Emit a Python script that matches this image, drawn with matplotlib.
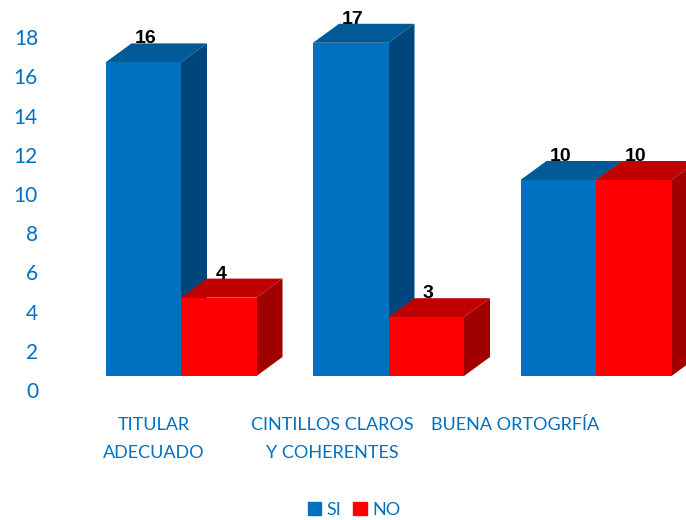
import matplotlib
matplotlib.use("Agg")
import matplotlib.pyplot as plt
from matplotlib.patches import Polygon, Patch

# data
categories = ["TITULAR\nADECUADO", "CINTILLOS CLAROS\nY COHERENTES", "BUENA ORTOGRFÍA"]
si_vals = [16, 17, 10]
no_vals = [4, 3, 10]
yticks = list(range(0, 20, 2))

plt.rcParams['font.family'] = ['Lato', 'DejaVu Sans']

BLUE = '#0070C0'; BLUE_TOP = '#005A96'; BLUE_SIDE = '#00467D'
RED = '#FF0000'; RED_TOP = '#C00000'; RED_SIDE = '#A00000'
TXT = '#0070C0'

# pixel -> data helpers (front face base at px y=376, group 0 centre at px x=181)
PX_X, PX_Y = 207.5, 19.6
def dx_(px): return (px - 181) / PX_X
def dy_(py): return (376 - py) / PX_Y

w = 75.5 / PX_X          # bar width
ddx = 26 / PX_X          # depth offsets
ddy = 19 / PX_Y

fig = plt.figure(figsize=(6.86, 5.2), dpi=100)
ax = fig.add_axes([0, 0, 1, 1])
ax.set_xlim(dx_(0), dx_(686))
ax.set_ylim(dy_(520), dy_(0))
ax.axis('off')

def bar3d(x0, v, front, top, side):
    x1 = x0 + w
    ax.add_patch(Polygon([(x1, 0), (x1 + ddx, ddy), (x1 + ddx, v + ddy), (x1, v)],
                         closed=True, fc=side, ec='none'))
    ax.add_patch(Polygon([(x0, v), (x0 + ddx, v + ddy), (x1 + ddx, v + ddy), (x1, v)],
                         closed=True, fc=top, ec='none'))
    ax.bar(x0, v, width=w, align='edge', color=front, edgecolor='none')
    ax.text(x0 + w / 2 + 0.01, v + ddy, str(v), ha='center', va='baseline',
            fontsize=14, fontweight='bold', color='black',
            family=['Liberation Sans', 'DejaVu Sans'])

for i in range(len(categories)):
    bar3d(i - w, si_vals[i], BLUE, BLUE_TOP, BLUE_SIDE)
    bar3d(i, no_vals[i], RED, RED_TOP, RED_SIDE)

# y tick labels (projected slightly below the front faces)
off = 16 / PX_Y
for t in yticks:
    ax.text(dx_(38), t - off, str(t), ha='right', va='center', fontsize=15, color=TXT)

# category labels
lab_x = [154, 332, 515]
for lx, c in zip(lab_x, categories):
    ax.text(dx_(lx), dy_(417), c, ha='center', va='top', fontsize=13,
            color=TXT, linespacing=1.9, multialignment='center')

handles = [Patch(color=BLUE, label='SI'), Patch(color=RED, label='NO')]
fig.legend(handles=handles, loc='center', bbox_to_anchor=(0.516, 0.02), ncol=2,
           frameon=False, fontsize=13, handlelength=0.75, handleheight=0.75,
           handletextpad=0.3, columnspacing=0.65, labelcolor=TXT)

fig.savefig('out.png', dpi=100)
